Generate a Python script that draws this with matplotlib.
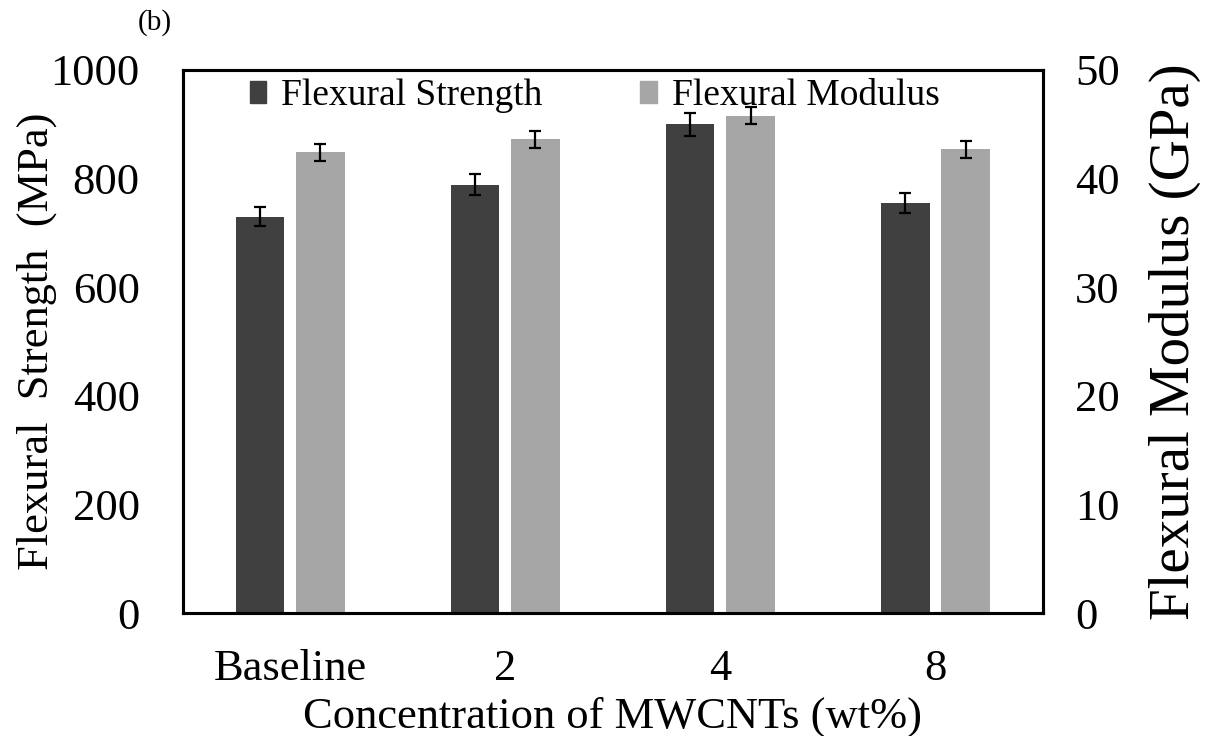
import numpy as np
import matplotlib
matplotlib.use("Agg")
import matplotlib.pyplot as plt
from matplotlib.patches import Patch

plt.rcParams['font.family'] = ['Liberation Serif', 'DejaVu Serif']

categories = ["Baseline", "2", "4", "8"]
strength = [730, 789, 900, 755]          # MPa
strength_err = [18, 18.5, 21, 18]
modulus = [42.4, 43.6, 45.8, 42.7]       # GPa
modulus_err = [0.82, 0.79, 0.76, 0.80]
left_ticks = [0, 200, 400, 600, 800, 1000]
right_ticks = [0, 10, 20, 30, 40, 50]

c_strength = "#404040"
c_modulus = "#a6a6a6"

fig = plt.figure(figsize=(12.1, 7.36), dpi=100)
ax = fig.add_axes([0.151, 0.167, 0.711, 0.738])
ax2 = ax.twinx()

x = np.arange(len(categories))
w = 0.225
off = 0.14

ax.bar(x - off, strength, width=w, color=c_strength, zorder=2)
ax.errorbar(x - off, strength, yerr=strength_err, fmt='none', ecolor='black',
            elinewidth=1.6, capsize=4.5, capthick=1.6, zorder=3)
ax2.bar(x + off, modulus, width=w, color=c_modulus, zorder=2)
ax2.errorbar(x + off, modulus, yerr=modulus_err, fmt='none', ecolor='black',
             elinewidth=1.6, capsize=4.5, capthick=1.6, zorder=3)

ax.set_xlim(-0.5, len(categories) - 0.5)
ax.set_ylim(0, 1000)
ax2.set_ylim(0, 50)
ax.set_xticks(x)
ax.set_xticklabels(categories)
ax.set_yticks(left_ticks)
ax2.set_yticks(right_ticks)

ax.tick_params(axis='both', length=0, labelsize=32)
ax.tick_params(axis='y', pad=31)
ax.tick_params(axis='x', pad=26)
ax2.tick_params(axis='y', length=0, labelsize=32, pad=23)

for a in (ax, ax2):
    for s in a.spines.values():
        s.set_linewidth(2.2)
        s.set_color('black')

ax.set_xlabel("Concentration of MWCNTs (wt%)", fontsize=32, labelpad=5)
ax.set_ylabel("Flexural  Strength  (MPa)", fontsize=32, labelpad=-5)
ax2.set_ylabel("Flexural Modulus (GPa)", fontsize=41, labelpad=21)

handles = [Patch(color=c_strength, label="Flexural Strength"),
           Patch(color=c_modulus, label="Flexural Modulus")]
ax.legend(handles=handles, loc='upper center', bbox_to_anchor=(0.479, 1.046),
          ncol=2, frameon=False, fontsize=27, handlelength=0.45,
          handleheight=0.5, handletextpad=0.4, columnspacing=2.6)

fig.text(0.128, 0.970, "(b)", fontsize=21, ha='center', va='center')

fig.savefig("out.png", dpi=100)
